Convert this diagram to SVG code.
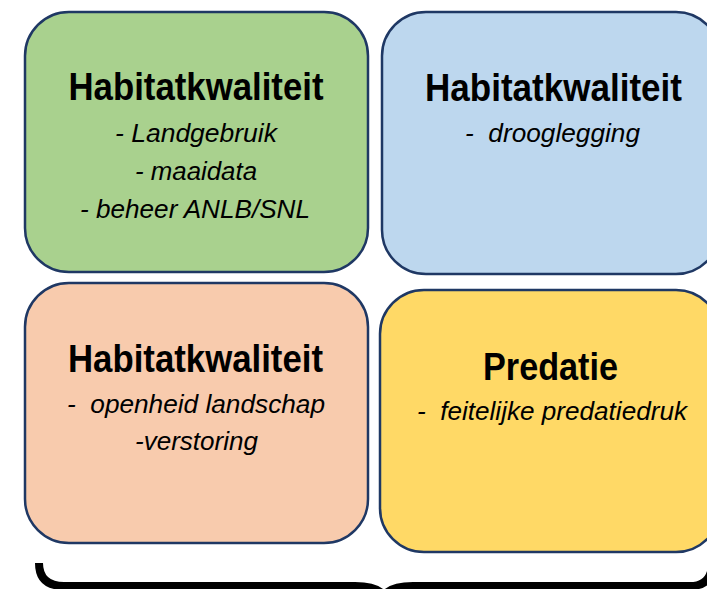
<svg xmlns="http://www.w3.org/2000/svg" width="707" height="589" viewBox="0 0 707 589">
<style>
.box{stroke:#1F3864;stroke-width:2.5}
.t{font-family:"Liberation Sans Narrow","Liberation Sans",Arial,sans-serif;font-weight:bold;font-size:38px;fill:#000;text-anchor:middle}
.s{font-family:"Liberation Sans Narrow","Liberation Sans",Arial,sans-serif;font-style:italic;font-size:25.5px;fill:#000;text-anchor:middle}
</style>
<rect width="707" height="589" fill="#fff"/>
<g id="node-green">
<rect class="box" x="25" y="12" width="343" height="260" rx="44" fill="#A9D18E"/>
<text class="t" x="196" y="100" textLength="255" lengthAdjust="spacingAndGlyphs">Habitatkwaliteit</text>
<text class="s" x="196" y="142" textLength="162" lengthAdjust="spacingAndGlyphs">- Landgebruik</text>
<text class="s" x="196" y="180" textLength="122" lengthAdjust="spacingAndGlyphs">- maaidata</text>
<text class="s" x="195" y="218" textLength="230" lengthAdjust="spacingAndGlyphs">- beheer ANLB/SNL</text>
</g>
<g id="node-blue">
<rect class="box" x="382" y="12" width="338" height="262" rx="44" fill="#BDD7EE"/>
<text class="t" x="553.5" y="101" textLength="257" lengthAdjust="spacingAndGlyphs">Habitatkwaliteit</text>
<text class="s" x="552.5" y="142" textLength="175" lengthAdjust="spacingAndGlyphs">-&#160; drooglegging</text>
</g>
<g id="node-peach">
<rect class="box" x="25" y="283" width="343" height="260" rx="44" fill="#F8CBAD"/>
<text class="t" x="195.5" y="372" textLength="255" lengthAdjust="spacingAndGlyphs">Habitatkwaliteit</text>
<text class="s" x="196" y="413" textLength="258" lengthAdjust="spacingAndGlyphs">-&#160; openheid landschap</text>
<text class="s" x="196.5" y="450" textLength="123" lengthAdjust="spacingAndGlyphs">-verstoring</text>
</g>
<g id="node-yellow">
<rect class="box" x="380" y="290" width="340" height="262" rx="44" fill="#FFD966"/>
<text class="t" x="550.5" y="380" textLength="135" lengthAdjust="spacingAndGlyphs">Predatie</text>
<text class="s" x="552" y="420" textLength="270" lengthAdjust="spacingAndGlyphs">-&#160; feitelijke predatiedruk</text>
</g>
<g id="connectors">
<path d="M39,563 Q39,586 64,586 L355,586 Q378,586 384,596 Q390,586 413,586 L690,586 Q712,586 712,563" fill="none" stroke="#000" stroke-width="8"/>
</g>
</svg>
